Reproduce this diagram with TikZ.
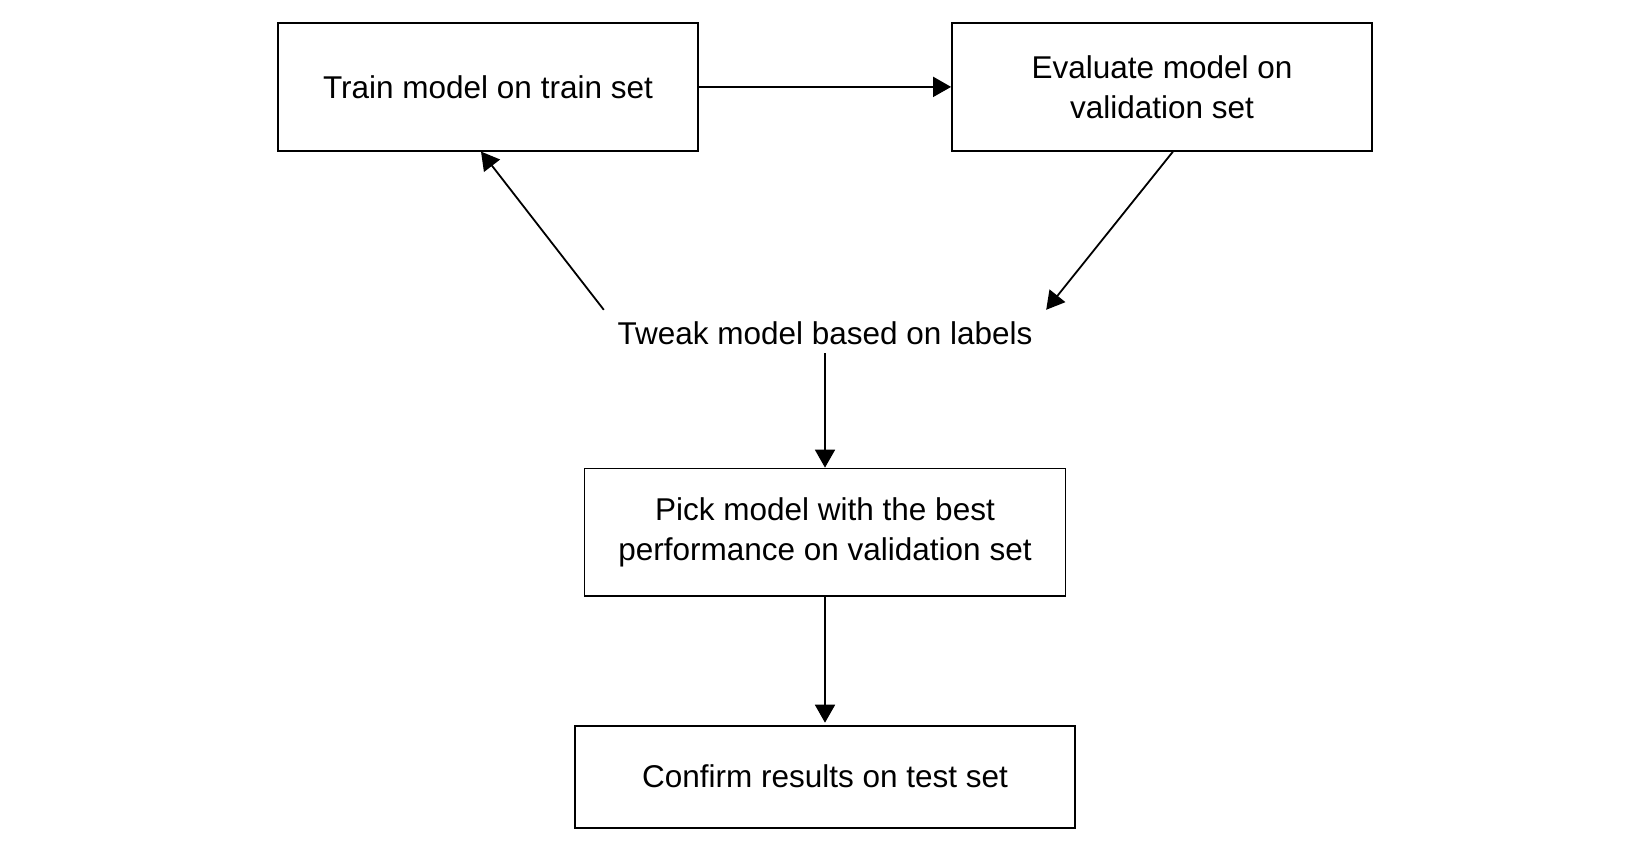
\documentclass[tikz,border=0pt]{standalone}
\usepackage{fontspec}
\setmainfont{Liberation Sans}
\usetikzlibrary{arrows.meta}
\begin{document}
\begin{tikzpicture}[x=1pt,y=-1pt,
  txt/.style={inner sep=0pt,align=center,font=\fontsize{31.5}{40}\selectfont},
  box/.style={txt,draw,line width=1.8pt},
  arr/.style={line width=1.8pt,-{Triangle[length=18pt,width=20pt]}}]
\useasboundingbox[fill=white] (0,0) rectangle (1650,851);
\node[box,minimum width=420pt,minimum height=127.5pt] (A) at (488,86.9) {Train model on train set};
\node[box,minimum width=420pt,minimum height=127.5pt] (B) at (1162,86.9) {Evaluate model on\\validation set};
\node[txt,minimum width=442pt,minimum height=46pt] (T) at (825,333) {Tweak model based on labels};
\node[box,minimum width=481pt,minimum height=127.5pt] (C) at (825,532.3) {Pick model with the best\\performance on validation set};
\node[box,minimum width=500pt,minimum height=102pt] (D) at (825,776.6) {Confirm results on test set};
\draw[arr] (A.east) -- (B.west);
\draw[arr] ([xshift=11pt]B.south) -- (T.north east);
\draw[arr] (T.north west) -- ([xshift=-7pt]A.south);
\draw[arr] ([yshift=3pt]T.south) -- (C.north);
\draw[arr] (C.south) -- ([yshift=2pt]D.north);
\end{tikzpicture}
\end{document}
